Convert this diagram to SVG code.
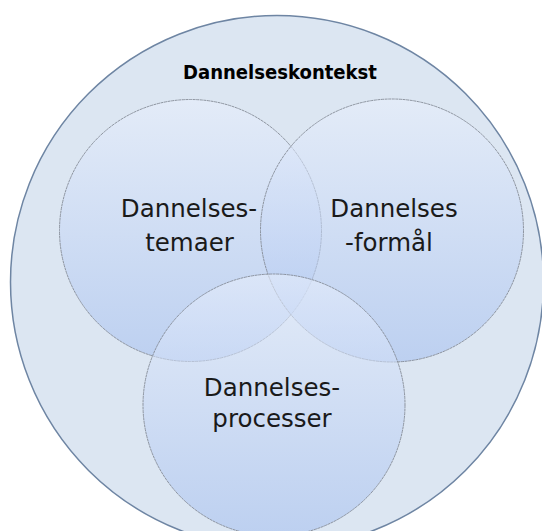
<svg xmlns="http://www.w3.org/2000/svg" width="542" height="531" viewBox="0 0 542 531">
<defs>
<linearGradient id="g" x1="0" y1="0" x2="0" y2="1">
<stop offset="0" stop-color="#e8effc"/>
<stop offset="1" stop-color="#a6c0ef"/>
</linearGradient>
<style>
.outer{fill:#dce6f2;stroke:#6e85a3;stroke-width:1.5}
.inner{fill:url(#g);fill-opacity:0.58;stroke:#858b96;stroke-width:0.9;stroke-dasharray:3 0.6}
.lbl{font-family:"DejaVu Sans",sans-serif;font-size:24.5px;fill:#1a1a1a;text-anchor:middle}
.ttl{font-family:"DejaVu Sans Condensed","DejaVu Sans",sans-serif;font-size:19px;font-weight:bold;fill:#000;text-anchor:middle}
</style>
</defs>
<rect width="542" height="531" fill="#ffffff"/>
<g id="kontekst">
<circle class="outer" cx="277" cy="282" r="266.5"/>
<text class="ttl" x="280" y="78.5" textLength="194" lengthAdjust="spacingAndGlyphs">Dannelseskontekst</text>
</g>
<g id="temaer">
<circle class="inner" cx="190.5" cy="230.5" r="131"/>
</g>
<g id="formaal">
<circle class="inner" cx="392" cy="230.5" r="131.5"/>
</g>
<g id="processer">
<circle class="inner" cx="274" cy="405" r="131"/>
</g>
<g id="labels">
<text class="lbl" x="189" y="217">Dannelses-</text>
<text class="lbl" x="189.5" y="251">temaer</text>
<text class="lbl" x="394" y="217">Dannelses</text>
<text class="lbl" x="389" y="251">-formål</text>
<text class="lbl" x="272" y="396">Dannelses-</text>
<text class="lbl" x="272" y="427">processer</text>
</g>
<g id="connectors"></g>
</svg>
